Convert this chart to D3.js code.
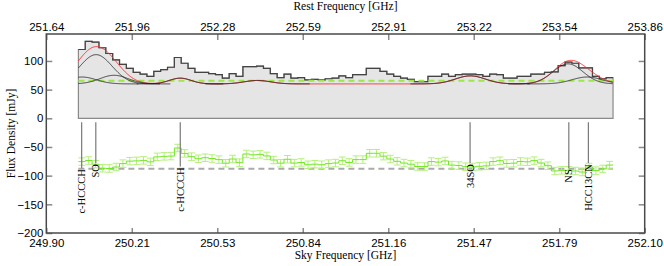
<!DOCTYPE html>
<html>
<head>
<meta charset="utf-8">
<script src="https://cdn.jsdelivr.net/npm/d3@7"></script>
<style>
body { margin: 0; background: #fff; }
svg { display: block; font-family: "Liberation Serif", "Times New Roman", serif; }
</style>
</head>
<body>
<script>
const WIDTH = 664;
const HEIGHT = 266;

// tick labels as printed on the two frequency axes
const skyTicks = ["249.90", "250.21", "250.53", "250.84", "251.16", "251.47", "251.79", "252.10"];
const restTicks = ["251.64", "251.96", "252.28", "252.59", "252.91", "253.22", "253.54", "253.86"];
const fluxTicks = [-200, -150, -100, -50, 0, 50, 100];

// observed spectrum (mJy), one value per channel
const chanStart = 250.018;
const chanWidth = 0.0252;
const flux = [
	120, 134, 133, 123, 113, 102, 94, 87, 80, 77,
	73, 82, 85, 89, 106, 96, 87, 80, 80, 78,
	76, 70, 78, 73, 90, 90, 91, 87, 78, 71,
	77, 70, 71, 67, 68, 67, 69, 70, 74, 71,
	76, 76, 87, 87, 82, 77, 73, 70, 68, 64,
	64, 73, 73, 77, 73, 76, 77, 77, 76, 73,
	77, 76, 70, 70, 73, 73, 77, 77, 80, 81,
	92, 98, 96, 88, 88, 73, 69, 71
];

// fitted gaussian components (sky GHz, mJy, GHz)
const compCenter = [250.0315, 250.083, 250.149, 250.3925, 250.676, 251.459, 251.818, 251.888];
const compAmp = [12, 51, 15, 10, 6, 14, 35, 12];
const compSigma = [0.052, 0.059, 0.052, 0.04, 0.048, 0.055, 0.055, 0.055];

const continuum = 60;
const threshold = 65.6;
const residualOffset = -88;
const rms = 6.5;

// line identifications
const lineNames = ["c-HCCCH", "SO", "c-HCCCH", "34SO", "NS", "HCC13CN"];
const lineFreq = [250.030, 250.082, 250.3925, 251.458, 251.821, 251.893];
const lineLabelTop = [-87, -78, -84, -78, -87, -78];

const x = d3.scaleLinear().domain([249.90, 252.10]).range([46.3, 644.7]);
const y = d3.scaleLinear().domain([-200, 147]).range([233, 34]);

const svg = d3
	.select("body")
	.append("svg")
	.attr("width", WIDTH)
	.attr("height", HEIGHT);

const nChan = flux.length;
const chanEnd = chanStart + nChan * chanWidth;
const edges = d3.range(nChan + 1).map((i) => chanStart + i * chanWidth);

function model(f) {
	let v = continuum;
	compCenter.forEach((c, k) => {
		v += compAmp[k] * Math.exp(-((f - c) ** 2) / (2 * compSigma[k] ** 2));
	});
	return v;
}

const stepPts = edges.map((e, i) => [e, flux[Math.min(i, nChan - 1)]]);

// filled histogram
svg
	.append("path")
	.datum(stepPts)
	.attr(
		"d",
		d3
			.area()
			.curve(d3.curveStepAfter)
			.x((d) => x(d[0]))
			.y0(y(0))
			.y1((d) => y(d[1]))
	)
	.attr("fill", "#e5e5e5")
	.attr("stroke", "#8a8a8a")
	.attr("stroke-width", 1.2);

svg
	.append("path")
	.datum(stepPts)
	.attr(
		"d",
		d3
			.line()
			.curve(d3.curveStepAfter)
			.x((d) => x(d[0]))
			.y((d) => y(d[1]))
	)
	.attr("fill", "none")
	.attr("stroke", "#444")
	.attr("stroke-width", 1.2);

// threshold dashed line
svg
	.append("line")
	.attr("x1", x(chanStart))
	.attr("x2", x(chanEnd))
	.attr("y1", y(threshold))
	.attr("y2", y(threshold))
	.attr("stroke", "#9be848")
	.attr("stroke-width", 2)
	.attr("stroke-dasharray", "6,4");

// total model
const fine = d3.range(chanStart, chanEnd + 0.001, 0.002);
const curve = d3
	.line()
	.x((d) => x(d[0]))
	.y((d) => y(d[1]));

svg
	.append("path")
	.datum(fine.map((f) => [f, model(f)]))
	.attr("d", curve)
	.attr("fill", "none")
	.attr("stroke", "#ff3030")
	.attr("stroke-width", 1);

// single components
compCenter.forEach((c, k) => {
	const lo = Math.max(chanStart, c - 4 * compSigma[k]);
	const hi = Math.min(chanEnd, c + 4 * compSigma[k]);
	const pts = d3.range(lo, hi, 0.002).map((f) => [
		f,
		continuum + compAmp[k] * Math.exp(-((f - c) ** 2) / (2 * compSigma[k] ** 2))
	]);
	svg
		.append("path")
		.datum(pts)
		.attr("d", curve)
		.attr("fill", "none")
		.attr("stroke", "#1a1a1a")
		.attr("stroke-width", 0.8);
});

// residuals
const resid = flux.map((v, i) => v - model(chanStart + (i + 0.5) * chanWidth) + residualOffset);

svg
	.append("line")
	.attr("x1", x(chanStart))
	.attr("x2", x(chanEnd))
	.attr("y1", y(residualOffset))
	.attr("y2", y(residualOffset))
	.attr("stroke", "#aaa")
	.attr("stroke-width", 2)
	.attr("stroke-dasharray", "6,4");

const errG = svg.append("g").attr("stroke", "#b4f07a").attr("stroke-width", 1);
resid.forEach((r, i) => {
	const cx = x(chanStart + (i + 0.5) * chanWidth);
	const hw = (x(chanWidth) - x(0)) / 2;
	errG.append("line").attr("x1", cx).attr("x2", cx).attr("y1", y(r - rms)).attr("y2", y(r + rms));
	errG.append("line").attr("x1", cx - hw).attr("x2", cx + hw).attr("y1", y(r - rms)).attr("y2", y(r - rms));
	errG.append("line").attr("x1", cx - hw).attr("x2", cx + hw).attr("y1", y(r + rms)).attr("y2", y(r + rms));
});

svg
	.append("path")
	.datum(edges.map((e, i) => [e, resid[Math.min(i, nChan - 1)]]))
	.attr(
		"d",
		d3
			.line()
			.curve(d3.curveStepAfter)
			.x((d) => x(d[0]))
			.y((d) => y(d[1]))
	)
	.attr("fill", "none")
	.attr("stroke", "#70e820")
	.attr("stroke-width", 1);

// line markers and names
lineNames.forEach((name, i) => {
	const lx = x(lineFreq[i]);
	svg
		.append("line")
		.attr("x1", lx)
		.attr("x2", lx)
		.attr("y1", y(-7))
		.attr("y2", y(lineLabelTop[i]))
		.attr("stroke", "#7a7a7a")
		.attr("stroke-width", 1.2);
	svg
		.append("text")
		.attr("transform", `translate(${lx},${y(lineLabelTop[i]) + 1}) rotate(-90)`)
		.attr("text-anchor", "end")
		.attr("dy", "0.35em")
		.attr("font-size", "10.5px")
		.attr("fill", "#000")
		.text(name);
});

// axes
const tickPos = d3.range(skyTicks.length).map((i) => 249.9 + (i * 2.2) / (skyTicks.length - 1));

function styleAxis(g) {
	g.select(".domain").remove();
	g.selectAll(".tick line").attr("stroke", "#8a8a8a").attr("stroke-width", 1.5);
	g.selectAll(".tick text").attr("font-size", "11.5px").attr("fill", "#000").attr("font-family", null);
}

svg
	.append("g")
	.attr("transform", `translate(0,${y(-200)})`)
	.call(d3.axisBottom(x).tickValues(tickPos).tickFormat((d, i) => skyTicks[i]).tickSize(-5).tickPadding(6))
	.call(styleAxis);

svg
	.append("g")
	.attr("transform", `translate(0,${y(147)})`)
	.call(d3.axisTop(x).tickValues(tickPos).tickFormat((d, i) => restTicks[i]).tickSize(-6).tickPadding(3))
	.call(styleAxis);

svg
	.append("g")
	.attr("transform", `translate(${x(249.9)},0)`)
	.call(d3.axisLeft(y).tickValues(fluxTicks).tickFormat((d) => d3.format("")(d).replace("-", "\u2212")).tickSize(-6).tickPadding(3))
	.call(styleAxis);

svg
	.append("g")
	.attr("transform", `translate(${x(252.1)},0)`)
	.call(d3.axisRight(y).tickValues(fluxTicks).tickFormat("").tickSize(-6))
	.call(styleAxis);

// frame
svg
	.append("rect")
	.attr("x", x(249.9))
	.attr("y", y(147))
	.attr("width", x(252.1) - x(249.9))
	.attr("height", y(-200) - y(147))
	.attr("fill", "none")
	.attr("stroke", "#4a4a4a")
	.attr("stroke-width", 1.5);

// titles
svg
	.append("text")
	.attr("x", 345.5)
	.attr("y", 9.5)
	.attr("text-anchor", "middle")
	.attr("font-size", "11.5px")
	.text("Rest Frequency [GHz]");

svg
	.append("text")
	.attr("x", 345.5)
	.attr("y", 259)
	.attr("text-anchor", "middle")
	.attr("font-size", "11.5px")
	.text("Sky Frequency [GHz]");

svg
	.append("text")
	.attr("transform", "translate(15,133.5) rotate(-90)")
	.attr("text-anchor", "middle")
	.attr("font-size", "11.5px")
	.text("Flux Density [mJy]");
</script>
</body>
</html>
